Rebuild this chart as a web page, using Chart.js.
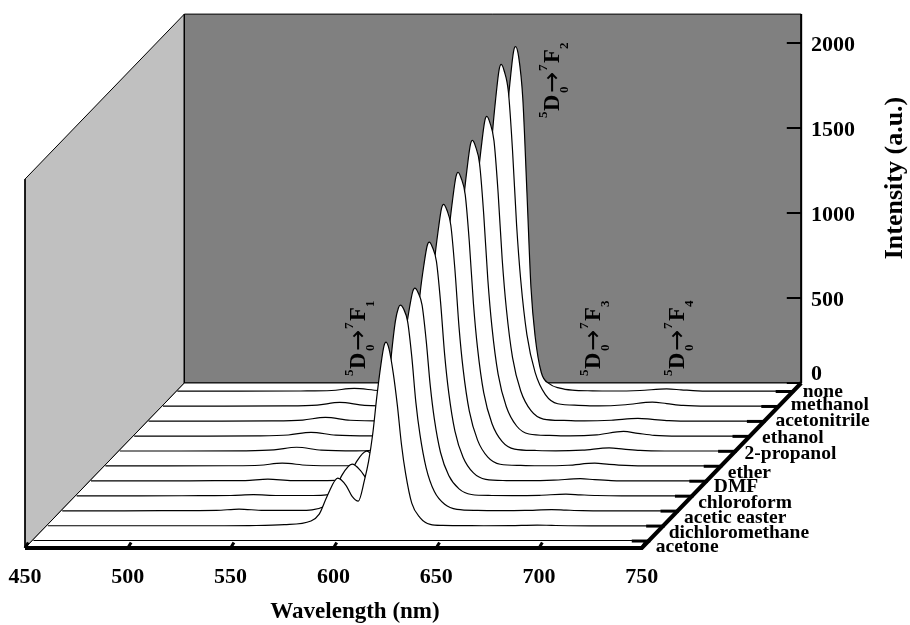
<!DOCTYPE html>
<html>
<head>
<meta charset="utf-8">
<title>Emission spectra in different solvents</title>
<script src="https://cdn.jsdelivr.net/npm/chart.js@4/dist/chart.umd.min.js"></script>
<style>
  html, body { margin: 0; padding: 0; background: #fff; }
  canvas { display: block; }
</style>
</head>
<body>
<canvas id="waterfall" width="910" height="625"></canvas>
<script>
// Values, front row first
const wavelengths = [450, 480, 510, 525, 536, 548, 565, 578, 582, 586, 591, 595, 598, 601, 604, 606, 608, 610, 612, 613.5, 614.5, 616, 618, 620, 622, 624, 627, 631, 636, 642, 652, 662, 675, 688, 695, 703, 715, 750];
const acetone =         [3, 3, 3, 3, 3, 3, 3, 3, 3, 3, 3, 3, 3, 3, 3, 3, 3, 3, 3, 3, 3, 3, 3, 3, 3, 3, 3, 3, 3, 3, 3, 3, 3, 3, 3, 3, 3, 3];
const dichloromethane = [2, 2, 2, 2, 2, 3, 8, 30, 70, 180, 282, 240, 175, 147, 270, 380, 540, 760, 950, 1060, 1082, 1040, 900, 710, 480, 310, 135, 50, 10, 4, 3, 2, 3, 6, 4, 2, 1, 1];
const aceticEaster =    [2, 2, 3, 4, 12, 4, 4, 30, 100, 210, 276, 240, 190, 160, 270, 390, 640, 909, 1115, 1195, 1212, 1190, 1115, 910, 640, 450, 255, 115, 40, 10, 4, 3, 4, 9, 6, 3, 2, 2];
const chloroform =      [2, 2, 3, 4, 9, 4, 4, 30, 100, 200, 265, 230, 185, 180, 290, 465, 710, 955, 1115, 1205, 1224, 1200, 1125, 918, 650, 453, 257, 122, 43, 10, 4, 3, 5, 12, 8, 4, 2, 2];
const dmf =             [2, 2, 3, 4, 12, 4, 4, 20, 70, 140, 200, 170, 170, 210, 340, 535, 815, 1097, 1280, 1385, 1406, 1378, 1293, 1055, 745, 520, 295, 140, 49, 11, 4, 3, 6, 15, 9, 4, 2, 2];
const ether =           [2, 2, 3, 6, 18, 6, 3, 15, 50, 110, 180, 170, 190, 230, 370, 585, 895, 1200, 1400, 1518, 1541, 1510, 1418, 1156, 817, 570, 324, 154, 54, 12, 5, 3, 6, 18, 11, 5, 2, 2];
const propanol2 =       [2, 2, 3, 8, 24, 7, 3, 15, 50, 110, 190, 180, 200, 246, 394, 623, 950, 1280, 1493, 1616, 1641, 1608, 1510, 1231, 870, 607, 345, 164, 57, 13, 5, 3, 7, 20, 13, 5, 2, 2];
const ethanol =         [2, 2, 3, 8, 24, 7, 3, 15, 50, 110, 200, 190, 212, 261, 418, 662, 1010, 1358, 1584, 1715, 1741, 1706, 1602, 1306, 923, 644, 366, 174, 61, 14, 6, 3, 9, 29, 18, 6, 2, 2];
const acetonitrile =    [2, 2, 3, 8, 24, 7, 3, 15, 50, 115, 205, 195, 218, 269, 430, 682, 1040, 1400, 1633, 1767, 1794, 1758, 1650, 1345, 951, 664, 377, 179, 63, 14, 6, 3, 7, 18, 12, 5, 2, 2];
const methanol =        [2, 2, 3, 8, 24, 7, 3, 15, 55, 120, 225, 215, 245, 302, 483, 765, 1167, 1570, 1831, 1982, 2012, 1972, 1851, 1509, 1066, 744, 423, 201, 70, 16, 7, 3, 10, 26, 17, 6, 2, 2];
const noSolvent =       [2, 2, 3, 6, 18, 6, 3, 10, 40, 90, 170, 160, 205, 300, 487, 770, 1180, 1583, 1846, 2000, 2029, 1968, 1725, 1177, 609, 325, 112, 45, 20, 8, 4, 3, 6, 15, 10, 4, 2, 2];

const rowNames = ['acetone', 'dichloromethane', 'acetic easter', 'chloroform', 'DMF', 'ether', '2-propanol', 'ethanol', 'acetonitrile', 'methanol', 'none'];
const rowValues = [acetone, dichloromethane, aceticEaster, chloroform, dmf, ether, propanol2, ethanol, acetonitrile, methanol, noSolvent];
const wavelengthTicks = [450, 500, 550, 600, 650, 700, 750];
const intensityTicks = [0, 500, 1000, 1500, 2000];

// Box shear: how far the back wall and each row sit from the front axis, in axis units
const depthX = 77.5;
const depthY = 970.6;
const wallHeight = 2170;
const rowShiftX = i => 4.1 + 7.0 * i;
const rowShiftY = i => 41 + 87.95 * i;

const serif = 'Liberation Serif, serif';

const poly = (points, fill, order, stroke = '#000', width = 1) => ({
    type: 'line', data: points.map(([x, y]) => ({ x, y })), order,
    backgroundColor: fill, borderColor: stroke, borderWidth: width,
    fill: fill ? 'shape' : false, pointRadius: 0, tension: 0, clip: false
});

const datasets = [];

// box: side wall, back wall, floor
datasets.push(poly([[450, 0], [450 + depthX, depthY], [450 + depthX, depthY + wallHeight], [450, wallHeight], [450, 0]], '#c0c0c0', 100));
datasets.push(poly([[450 + depthX, depthY], [750 + depthX, depthY], [750 + depthX, depthY + wallHeight], [450 + depthX, depthY + wallHeight], [450 + depthX, depthY]], '#808080', 99));
datasets.push(poly([[450, 0], [750, 0], [750 + depthX, depthY], [450 + depthX, depthY], [450, 0]], '#ffffff', 98));

// spectra, back row painted first so the front rows cover it
rowValues.forEach((values, i) => {
    const dx = rowShiftX(i);
    const dy = rowShiftY(i);
    datasets.push({
        label: rowNames[i],
        data: wavelengths.map((w, k) => ({ x: w + dx, y: values[k] + dy })),
        order: 40 + i,
        borderColor: '#000',
        borderWidth: 1.2,
        backgroundColor: '#fff',
        fill: { value: dy },
        pointRadius: 0,
        cubicInterpolationMode: 'monotone',
        clip: false
    });
    // row tick on the right floor edge
    datasets.push(poly([[750 + dx - 9, dy], [750 + dx, dy]], null, 10, '#000', 3));
});

// thick edges and tick marks on top
datasets.push(poly([[450 + depthX + 300, depthY + wallHeight], [750 + depthX, depthY]], null, 5, '#000', 2));
datasets.push(poly([[450, 0], [750, 0], [750 + depthX, depthY]], null, 4, '#000', 4));
wavelengthTicks.forEach(w => {
    datasets.push(poly([[w, 0], [w + 1.6, 32]], null, 3, '#000', 3));
});
intensityTicks.forEach(v => {
    datasets.push(poly([[750 + depthX - 7, depthY + v], [750 + depthX, depthY + v]], null, 3, '#000', 2));
});

// text that the axes can't place
const rowLabelDx = [5.5, 4, 5, 4.7, 6, 5.5, 8, 11, 10, 11, 8.5];
const rowLabelDy = [6, 7, 7, 7, 6, 7, 3, 2, 0, -1, 0];
const transitions = [
    { sub: '1', wl: 538, v: 41 },
    { sub: '2', wl: 632, v: 1559 },
    { sub: '3', wl: 652.3, v: 41 },
    { sub: '4', wl: 693.2, v: 41 }
];

function drawTransition(ctx, px, py, sub) {
    ctx.save();
    ctx.translate(px, py);
    ctx.rotate(-Math.PI / 2);
    ctx.textAlign = 'left';
    ctx.textBaseline = 'alphabetic';
    const small = 'bold 13px ' + serif;
    const big = 'bold 22.5px ' + serif;
    ctx.font = small; ctx.fillText('5', 0, -12);
    ctx.font = big; ctx.fillText('D', 7, 0);
    ctx.font = small; ctx.fillText('0', 25, 9);
    ctx.font = '25px DejaVu Sans'; ctx.fillText('→', 25, 1);
    ctx.font = small; ctx.fillText('7', 47, -12);
    ctx.font = big; ctx.fillText('F', 55, 0);
    ctx.font = small; ctx.fillText(sub, 69, 9);
    ctx.restore();
}

const boxText = {
    id: 'boxText',
    afterDraw(chart) {
        const { ctx, scales: { x, y } } = chart;
        ctx.save();
        ctx.fillStyle = '#000';
        ctx.textBaseline = 'middle';
        ctx.textAlign = 'left';
        ctx.font = 'bold 19.5px ' + serif;
        rowNames.forEach((name, i) => {
            const px = x.getPixelForValue(750 + rowShiftX(i)) + rowLabelDx[i];
            const py = y.getPixelForValue(rowShiftY(i)) + rowLabelDy[i];
            ctx.fillText(name, px, py);
        });
        transitions.forEach(t => {
            drawTransition(ctx, x.getPixelForValue(t.wl + depthX), y.getPixelForValue(t.v + depthY), t.sub);
        });
        ctx.textAlign = 'center';
        ctx.font = 'bold 23px ' + serif;
        ctx.fillText('Wavelength (nm)', 355, 612);
        ctx.translate(895, 178);
        ctx.rotate(-Math.PI / 2);
        ctx.font = 'bold 26px ' + serif;
        ctx.fillText('Intensity (a.u.)', 0, 0);
        ctx.restore();
    }
};

const noScalePadding = scale => {
    scale.paddingLeft = scale.paddingRight = scale.paddingTop = scale.paddingBottom = 0;
};

new Chart(document.getElementById('waterfall'), {
    type: 'scatter',
    data: { datasets },
    plugins: [boxText],
    options: {
        responsive: false,
        animation: false,
        showLine: true,
        layout: { padding: { left: 25, top: 14, right: 0, bottom: 0 } },
        plugins: { legend: { display: false }, tooltip: { enabled: false } },
        scales: {
            x: {
                type: 'linear',
                min: 450,
                max: 827.9,
                afterFit: scale => { scale.height = 77; noScalePadding(scale); },
                afterBuildTicks: scale => { scale.ticks = wavelengthTicks.map(value => ({ value })); },
                grid: { display: false, drawTicks: false },
                border: { display: false },
                ticks: {
                    autoSkip: false,
                    maxRotation: 0,
                    padding: 16,
                    color: '#000',
                    font: { family: serif, size: 22, weight: 'bold' }
                }
            },
            y: {
                type: 'linear',
                position: 'right',
                min: 0,
                max: 3141.2,
                afterFit: scale => { scale.width = 108; noScalePadding(scale); },
                afterBuildTicks: scale => { scale.ticks = intensityTicks.map(v => ({ value: v + depthY })); },
                grid: { display: false, drawTicks: false },
                border: { display: false },
                ticks: {
                    autoSkip: false,
                    padding: 9,
                    labelOffset: 2,
                    color: '#000',
                    font: { family: serif, size: 22, weight: 'bold', lineHeight: 1 },
                    callback: value => {
                        const v = Math.round(value - depthY);
                        return v === 0 ? ['0', ''] : String(v);
                    }
                }
            }
        }
    }
});
</script>
</body>
</html>
